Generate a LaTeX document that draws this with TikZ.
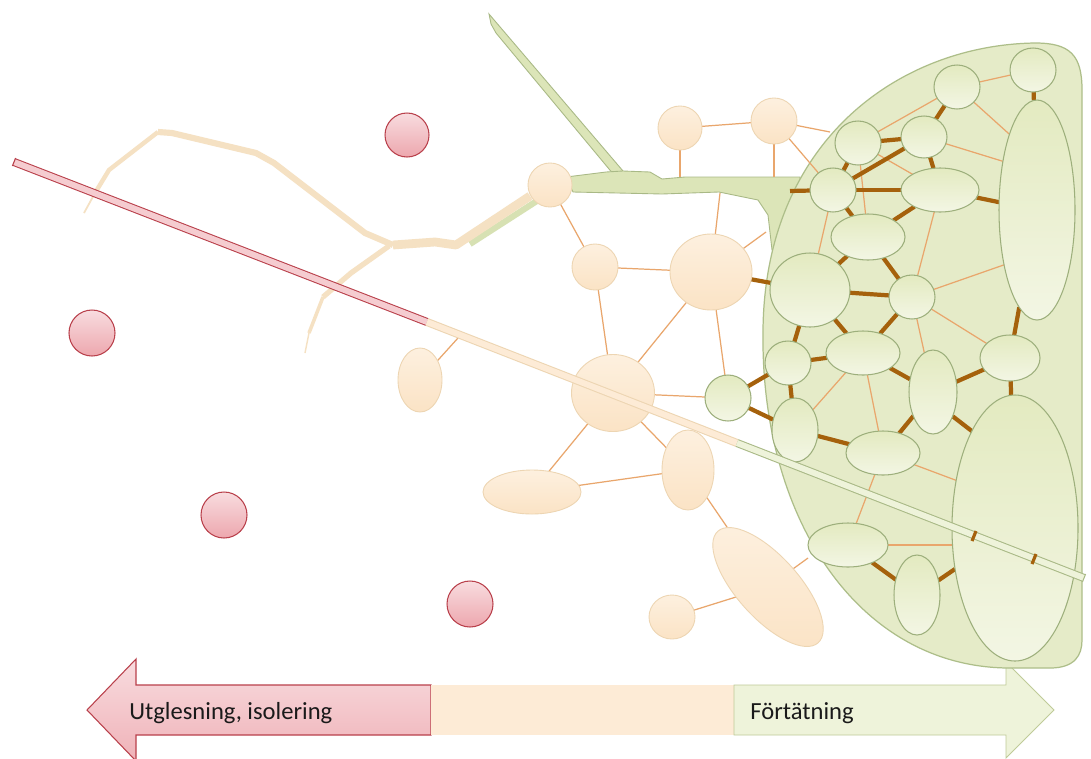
\documentclass[tikz,border=0pt]{standalone}
\usepackage{fontspec}
\setmainfont{Carlito}
\usetikzlibrary{shapes.geometric}
\definecolor{tantop}{HTML}{FDF0DF}
\definecolor{tanbot}{HTML}{FBE3C5}
\definecolor{tanedge}{HTML}{EDD5B2}
\definecolor{greentop}{HTML}{E3EAC0}
\definecolor{greenbot}{HTML}{F3F6E4}
\definecolor{greenedge}{HTML}{9DAF7C}
\definecolor{blobfill}{HTML}{E5EBC8}
\definecolor{blobedge}{HTML}{ADBE89}
\definecolor{pinktop}{HTML}{F8DCDF}
\definecolor{pinkbot}{HTML}{EDA7AE}
\definecolor{rededge}{HTML}{B9404B}
\definecolor{bondbrown}{HTML}{A5610C}
\definecolor{linkorange}{HTML}{E9A66C}
\definecolor{branchtan}{HTML}{F5E1C3}
\definecolor{branchgreen}{HTML}{DCE5B8}
\definecolor{branchedge}{HTML}{A9B986}
\definecolor{arrowbeige}{HTML}{FDEBD6}
\definecolor{arrowgreen}{HTML}{EEF3DA}
\definecolor{arrowedge}{HTML}{BFCB98}
\definecolor{inktext}{HTML}{1A1A1A}
\pgfdeclarelayer{back}
\pgfdeclarelayer{links}
\pgfdeclarelayer{front}
\pgfsetlayers{back,links,main,front}

\begin{document}
\begin{tikzpicture}[x=0.02cm, y=-0.02cm,
  sz/.style 2 args={minimum width=#1*0.02cm, minimum height=#2*0.02cm},
  tnode/.style={ellipse, inner sep=0pt, outer sep=0pt, draw=tanedge, line width=0.5pt,
    top color=tantop, bottom color=tanbot},
  gnode/.style={ellipse, inner sep=0pt, outer sep=0pt, draw=greenedge, line width=0.6pt,
    top color=greentop, bottom color=greenbot},
  rnode/.style={circle, inner sep=0pt, outer sep=0pt, draw=rededge, line width=0.6pt,
    top color=pinktop, bottom color=pinkbot},
  link/.style={draw=linkorange, line width=0.7pt},
  bond/.style={draw=bondbrown, line width=2.4pt},
  branch/.style={draw=branchtan, line join=round},
  lbl/.style={anchor=west, inner sep=0pt, text=inktext, font=\fontsize{14}{16}\selectfont}]
  \useasboundingbox (0,0) rectangle (1091,758);

  % Isolated points
  \node[rnode, sz={44}{44}] (r1) at (407,135) {};
  \node[rnode, sz={46}{46}] (r2) at (92,333) {};
  \node[rnode, sz={46}{46}] (r3) at (224,515) {};
  \node[rnode, sz={46}{46}] (r4) at (470,604) {};

  % Loose network
  \node[tnode, sz={44}{44}] (t1) at (680,128) {};
  \node[tnode, sz={46}{46}] (t2) at (774,121) {};
  \node[tnode, sz={44}{44}] (t3) at (550,185) {};
  \node[tnode, sz={46}{46}] (t4) at (595,267) {};
  \node[tnode, sz={82}{76}] (t5) at (711,272) {};
  \node[tnode, sz={83}{77}] (t6) at (613,393) {};
  \node[tnode, sz={52}{80}] (t7) at (688,470) {};
  \node[tnode, sz={98}{44}] (t8) at (532,492) {};
  \node[tnode, sz={150}{62}, rotate=-48] (t9) at (768,587) {};
  \node[tnode, sz={46}{44}] (t10) at (672,617) {};
  \node[tnode, sz={44}{64}] (t11) at (420,380) {};

  % Dense cluster
  \node[gnode, sz={46}{44}] (e1) at (1033,70) {};
  \node[gnode, sz={46}{44}] (e2) at (957,87) {};
  \node[gnode, sz={76}{220}] (e3) at (1037,210) {};
  \node[gnode, sz={46}{44}] (e4) at (858,143) {};
  \node[gnode, sz={46}{42}] (e5) at (924,137) {};
  \node[gnode, sz={46}{44}] (e6) at (833,190) {};
  \node[gnode, sz={78}{44}] (e7) at (940,190) {};
  \node[gnode, sz={74}{46}] (e8) at (868,237) {};
  \node[gnode, sz={80}{74}] (e9) at (810,290) {};
  \node[gnode, sz={46}{44}] (e10) at (912,297) {};
  \node[gnode, sz={46}{44}] (e11) at (788,363) {};
  \node[gnode, sz={74}{44}] (e12) at (863,353) {};
  \node[gnode, sz={48}{84}] (e13) at (933,392) {};
  \node[gnode, sz={60}{46}] (e14) at (1010,358) {};
  \node[gnode, sz={46}{64}] (e15) at (795,430) {};
  \node[gnode, sz={74}{44}] (e16) at (883,453) {};
  \node[gnode, sz={126}{266}] (e17) at (1015,528) {};
  \node[gnode, sz={80}{44}] (e18) at (848,545) {};
  \node[gnode, sz={46}{80}] (e19) at (917,595) {};
  \node[gnode, sz={46}{46}] (e20) at (728,398) {};

  % Free ends
  \coordinate (t1b) at (680,177);
  \coordinate (t2b) at (774,177);
  \coordinate (t2e) at (830,132);
  \coordinate (t5b) at (720,193);
  \coordinate (t5e) at (766,232);
  \coordinate (t9e) at (808,558);
  \coordinate (t11s) at (458,338);
  \coordinate (bandend) at (790,191);
  \coordinate (sA) at (14,162);
  \coordinate (sB) at (427,322);
  \coordinate (sC) at (737,443);
  \coordinate (sD) at (1084,578);

  \begin{pgfonlayer}{back}
    \fill[white] (0,0) rectangle (1091,758);
    % Scale arrow
    \draw[rededge, line width=0.6pt, top color=pinktop, bottom color=pinkbot!80!pinktop]
      (87,710) -- (136,659) -- (136,685) -- (431,685) -- (431,735) -- (136,735) -- (136,761) -- cycle;
    \fill[arrowbeige] (431,685) rectangle (734,735);
    \draw[arrowedge, line width=0.5pt, fill=arrowgreen]
      (734,685) -- (1006,685) -- (1006,662) -- (1054,710) -- (1006,758) -- (1006,735) -- (734,735) -- cycle;
    % Old road
    \draw[branchgreen!90!branchedge, line width=3.5pt] (543,197) -- (470,244);
    \draw[branch, line width=5pt] (530,196) -- (456,245) -- (435,242) -- (393,245);
    \draw[branch, line width=3.5pt] (393,245) -- (365,233) -- (274,163) -- (256,153) -- (172,133) -- (158,132);
    \draw[branch, line width=2.5pt] (158,132) -- (109,170) -- (95,193);
    \draw[branch, line width=1pt] (95,193) -- (84,213);
    \draw[branch, line width=3pt] (389,246) -- (351,273) -- (323,297);
    \draw[branch, line width=2pt] (323,297) -- (309,333);
    \draw[branch, line width=0.8pt] (309,333) -- (305,353);
    % New road
    \draw[branchedge, line width=0.5pt, fill=branchgreen]
      (489,14) -- (623,171) -- (614,175) -- (496,33) -- (491,24) -- cycle;
    \draw[branchedge, line width=0.5pt, fill=branchgreen]
      (566,177) -- (606,172) -- (623,171) -- (650,172) -- (662,179) -- (685,177) -- (764,177) -- (800,177)
      -- (800,250) -- (772,250) -- (768,215) -- (758,200) -- (719,192) -- (662,194) -- (573,192) -- cycle;
    % Cluster area
    \draw[blobedge, line width=0.7pt, fill=blobfill]
      (1082,640) -- (1082,90) .. controls (1082,55) and (1070,43) .. (1035,43)
      .. controls (900,45) and (765,140) .. (763,330)
      .. controls (760,520) and (860,668) .. (1010,668) -- (1050,668)
      .. controls (1075,668) and (1082,655) .. (1082,640) -- cycle;
  \end{pgfonlayer}

  \begin{pgfonlayer}{links}
    % Weak ties
    \draw[link] (t1) -- (t2);
    \draw[link] (t1) -- (t1b);
    \draw[link] (t2) -- (t2b);
    \draw[link] (t2) -- (t2e);
    \draw[link] (t2) -- (e6);
    \draw[link] (t3) -- (t4);
    \draw[link] (t4) -- (t5);
    \draw[link] (t4) -- (t6);
    \draw[link] (t5) -- (t5b);
    \draw[link] (t5) -- (t6);
    \draw[link] (t5) -- (t5e);
    \draw[link] (t5) -- (e20);
    \draw[link] (t6) -- (e20);
    \draw[link] (t6) -- (t8);
    \draw[link] (t6) -- (t7);
    \draw[link] (t7) -- (t8);
    \draw[link] (t7) -- (t9);
    \draw[link] (t9) -- (t10);
    \draw[link] (t9) -- (t9e);
    \draw[link] (t11) -- (t11s);
    \draw[link] (e1) -- (e2);
    \draw[link] (e2) -- (e4);
    \draw[link] (e2) -- (e3.110);
    \draw[link] (e5) -- (e3.125);
    \draw[link] (e4) -- (e7);
    \draw[link] (e4) -- (e8);
    \draw[link] (e6) -- (e9);
    \draw[link] (e7) -- (e10);
    \draw[link] (e10) -- (e3.239);
    \draw[link] (e10) -- (e14);
    \draw[link] (e10) -- (e13);
    \draw[link] (e12) -- (e15);
    \draw[link] (e12) -- (e16);
    \draw[link] (e16) -- (e17.141);
    \draw[link] (e16) -- (e18);
    \draw[link] (e18) -- (e18 -| e17.west);
    % Strong ties
    \draw[bond] (e1) -- (e3);
    \draw[bond] (e2) -- (e5);
    \draw[bond] (e4) -- (e5);
    \draw[bond] (e4) -- (e6);
    \draw[bond] (e6) -- (e5);
    \draw[bond] (e5) -- (e7);
    \draw[bond] (bandend) -- (e6);
    \draw[bond] (e6) -- (e7);
    \draw[bond] (e7) -- (e3);
    \draw[bond] (e6) -- (e8);
    \draw[bond] (e7) -- (e8);
    \draw[bond] (e8) -- (e9);
    \draw[bond] (e8) -- (e10);
    \draw[bond] (e9) -- (e10);
    \draw[bond] (t5) -- (e9);
    \draw[bond] (e9) -- (e11);
    \draw[bond] (e9) -- (e12);
    \draw[bond] (e10) -- (e12);
    \draw[bond] (e3) -- (e14);
    \draw[bond] (e11) -- (e12);
    \draw[bond] (e12) -- (e13);
    \draw[bond] (e13) -- (e14);
    \draw[bond] (e11) -- (e20);
    \draw[bond] (e20) -- (e15);
    \draw[bond] (e11) -- (e15);
    \draw[bond] (e14) -- (e17);
    \draw[bond] (e13) -- (e16);
    \draw[bond] (e13.-51) -- (e17.114);
    \draw[bond] (e15) -- (e16);
    \draw[bond] (e18) -- (e19);
    \draw[bond] (e19) -- (e17);
  \end{pgfonlayer}

  \begin{pgfonlayer}{front}
    % Stick
    \draw[rededge, line width=0.6pt, double=pinktop!70!pinkbot, double distance=3.4pt] (sA) -- (sB);
    \draw[rededge, line width=0.6pt] (15.6,158) -- (12.4,166);
    \draw[tanedge, line width=0.6pt, double=arrowbeige, double distance=3.4pt] (sB) -- (sC);
    \draw[branchedge, line width=0.6pt, double=arrowgreen, double distance=3.4pt] (sC) -- (sD);
    \draw[branchedge, line width=0.6pt] (1085.6,574) -- (1082.4,582);
    \draw[bond, line width=1.8pt] (976,531) -- (972,541);
    \draw[bond, line width=1.8pt] (1036,554) -- (1032,564);
  \end{pgfonlayer}

  % Labels
  \node[lbl] (loss) at (129,713) {Utglesning, isolering};
  \node[lbl] (gain) at (750,713) {Förtätning};
\end{tikzpicture}
\end{document}
